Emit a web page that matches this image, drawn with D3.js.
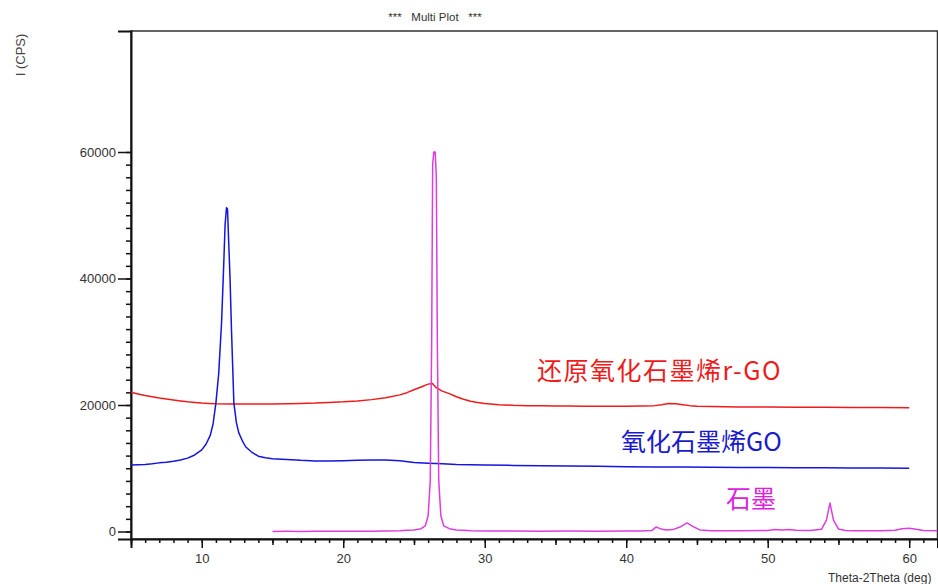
<!DOCTYPE html>
<html>
<head>
<meta charset="utf-8">
<script src="https://cdn.jsdelivr.net/npm/d3@7"></script>
<style>
  body { margin: 0; background: #fff; }
  svg { display: block; }
  .tick text { font-family: "Liberation Sans", Arial, sans-serif; font-size: 13px; fill: #333; }
</style>
</head>
<body>
<div id="chart"></div>
<script>
// XRD patterns (2theta in deg, intensity in CPS)
var rgoTheta = [5, 5.5, 6, 6.5, 7, 7.5, 8, 8.5, 9, 9.5, 10, 10.5, 11, 12, 13, 14, 15, 16, 17, 18, 19, 20, 21, 22, 23, 24, 24.5, 25, 25.5, 26, 26.3, 26.6, 27, 27.5, 28, 28.5, 29, 29.5, 30, 31, 32, 33, 34, 35, 36, 37, 38, 39, 40, 41, 42, 42.5, 43, 43.5, 44, 44.5, 45, 46, 48, 50, 52, 54, 56, 58, 60];
var rgoCounts = [22000, 21750, 21500, 21300, 21100, 20950, 20800, 20650, 20500, 20400, 20300, 20250, 20200, 20150, 20150, 20150, 20150, 20200, 20250, 20300, 20400, 20500, 20650, 20850, 21150, 21600, 21950, 22400, 22850, 23300, 23400, 22700, 22200, 21800, 21300, 20900, 20600, 20400, 20250, 20050, 19950, 19900, 19900, 19850, 19850, 19800, 19800, 19800, 19800, 19850, 19900, 20050, 20250, 20200, 20050, 19900, 19800, 19750, 19700, 19700, 19650, 19650, 19600, 19600, 19550];

var goTheta = [5, 5.5, 6, 6.5, 7, 7.5, 8, 8.5, 9, 9.5, 10, 10.3, 10.6, 10.8, 11.0, 11.2, 11.4, 11.55, 11.65, 11.75, 11.82, 11.9, 12.0, 12.1, 12.27, 12.45, 12.62, 12.9, 13.1, 13.5, 14, 14.5, 15, 16, 17, 18, 19, 20, 21, 22, 23, 24, 25, 26, 27, 28, 29, 30, 32, 34, 36, 38, 40, 42, 44, 46, 48, 50, 52, 54, 56, 58, 60];
var goCounts = [10500, 10550, 10600, 10700, 10850, 10950, 11100, 11300, 11600, 12100, 12900, 13800, 15200, 17000, 20300, 25000, 33000, 42000, 48500, 51200, 51000, 46000, 40000, 32000, 20300, 17200, 15600, 14200, 13400, 12600, 11900, 11650, 11500, 11400, 11250, 11150, 11150, 11200, 11250, 11300, 11300, 11200, 10900, 10800, 10700, 10600, 10550, 10500, 10450, 10400, 10350, 10300, 10250, 10200, 10180, 10150, 10120, 10100, 10080, 10060, 10050, 10030, 10000];

var graphiteTheta = [15, 16, 17, 18, 19, 20, 21, 22, 23, 24, 24.5, 25, 25.5, 25.8, 26.0, 26.15, 26.25, 26.32, 26.4, 26.5, 26.58, 26.65, 26.75, 26.9, 27.1, 27.5, 28, 28.5, 29, 30, 32, 34, 36, 38, 40, 41, 41.8, 42.1, 42.4, 42.8, 43.3, 43.8, 44.3, 44.7, 45.2, 46, 48, 50, 50.5, 51, 51.5, 52, 53, 53.8, 54.15, 54.4, 54.65, 55.0, 55.5, 56, 58, 59, 59.5, 60, 60.5, 61, 62];
var graphiteCounts = [0, 20, 10, 30, 20, 40, 30, 50, 60, 100, 200, 250, 450, 900, 2500, 8000, 30000, 58000, 60000, 60000, 56000, 30000, 8000, 2500, 900, 450, 250, 180, 120, 80, 60, 50, 60, 50, 60, 80, 150, 700, 450, 250, 300, 700, 1350, 800, 250, 120, 100, 150, 300, 250, 300, 200, 150, 350, 1800, 4500, 1800, 400, 150, 100, 120, 200, 450, 500, 350, 150, 100];

var xMajorTicks = [10, 20, 30, 40, 50, 60];
var yMajorTicks = [0, 20000, 40000, 60000];

var svgWidth = 938;
var svgHeight = 584;

// plot box edges, in pixels
var box = { left: 131, right: 937.5, top: 31, bottom: 539 };

var svg = d3.select("#chart")
  .append("svg")
  .attr("width", svgWidth)
  .attr("height", svgHeight);

var xScale = d3.scaleLinear()
  .domain([5, 62])
  .range([box.left, box.right]);

var yScale = d3.scaleLinear()
  .domain([-1186, 79130])
  .range([box.bottom, box.top]);

svg.append("clipPath")
  .attr("id", "plotClip")
  .append("rect")
  .attr("x", box.left)
  .attr("y", box.top)
  .attr("width", box.right - box.left)
  .attr("height", box.bottom - box.top);

// frame
svg.append("rect")
  .attr("x", box.left)
  .attr("y", box.top)
  .attr("width", box.right - box.left)
  .attr("height", box.bottom - box.top)
  .attr("fill", "none")
  .attr("stroke", "#333")
  .attr("stroke-width", 1.5);

// title and axis labels
svg.append("text")
  .attr("x", 435)
  .attr("y", 21)
  .attr("text-anchor", "middle")
  .attr("xml:space", "preserve")
  .style("font-family", "Liberation Sans, Arial, sans-serif")
  .style("font-size", "11.5px")
  .style("white-space", "pre")
  .attr("fill", "#333")
  .text("***   Multi Plot   ***");

svg.append("text")
  .attr("transform", "translate(25, 55) rotate(-90)")
  .attr("text-anchor", "middle")
  .style("font-family", "Liberation Sans, Arial, sans-serif")
  .style("font-size", "13px")
  .attr("fill", "#444")
  .text("I (CPS)");

svg.append("text")
  .attr("x", 828)
  .attr("y", 582)
  .style("font-family", "Liberation Sans, Arial, sans-serif")
  .style("font-size", "12px")
  .attr("fill", "#333")
  .text("Theta-2Theta (deg)");

// y axis: minor ticks every 2000, labelled majors every 20000
svg.append("g")
  .attr("transform", `translate(${box.left}, 0)`)
  .call(d3.axisLeft(yScale)
    .tickValues(d3.range(0, 60001, 2000))
    .tickSize(5)
    .tickFormat(""))
  .call(g => g.select(".domain").remove())
  .selectAll("line").attr("stroke", "#111").attr("stroke-width", 1.5);

svg.append("g")
  .attr("transform", `translate(${box.left}, 0)`)
  .call(d3.axisLeft(yScale)
    .tickValues(yMajorTicks)
    .tickSize(13)
    .tickPadding(2)
    .tickFormat(d3.format("d")))
  .call(g => g.select(".domain").attr("stroke", "#111").attr("stroke-width", 2))
  .selectAll("line").attr("stroke", "#111").attr("stroke-width", 1.5);

// x axis: minor every 1 deg, medium at the fives, labelled majors at the tens
svg.append("g")
  .attr("transform", `translate(0, ${box.bottom})`)
  .call(d3.axisBottom(xScale)
    .tickValues(d3.range(5, 63, 1))
    .tickSize(4)
    .tickFormat(""))
  .call(g => g.select(".domain").remove())
  .selectAll("line").attr("stroke", "#111").attr("stroke-width", 1.5);

svg.append("g")
  .attr("transform", `translate(0, ${box.bottom})`)
  .call(d3.axisBottom(xScale)
    .tickValues(d3.range(5, 63, 10))
    .tickSize(6)
    .tickFormat(""))
  .call(g => g.select(".domain").remove())
  .selectAll("line").attr("stroke", "#111").attr("stroke-width", 1.5);

svg.append("g")
  .attr("transform", `translate(0, ${box.bottom})`)
  .call(d3.axisBottom(xScale)
    .tickValues(xMajorTicks)
    .tickSize(9)
    .tickPadding(6)
    .tickFormat(d3.format("d")))
  .call(g => g.select(".domain").attr("stroke", "#111").attr("stroke-width", 2))
  .selectAll("line").attr("stroke", "#111").attr("stroke-width", 1.5);

// patterns: r-GO first, then GO, graphite on top
var series = [
  { theta: rgoTheta, counts: rgoCounts, color: "#ee1b1b" },
  { theta: goTheta, counts: goCounts, color: "#1515dd" },
  { theta: graphiteTheta, counts: graphiteCounts, color: "#dd3ddd" }
];

var line = d3.line()
  .x(d => xScale(d[0]))
  .y(d => yScale(d[1]));

var linesGroup = svg.append("g").attr("clip-path", "url(#plotClip)");

series.forEach(function(s) {
  linesGroup.append("path")
    .datum(d3.zip(s.theta, s.counts))
    .attr("d", line)
    .attr("fill", "none")
    .attr("stroke", s.color)
    .attr("stroke-width", 1.5)
    .attr("stroke-linejoin", "round");
});

// curve names
var labels = [
  { text: "还原氧化石墨烯r-GO", x: 537, y: 369, spacing: 1.5, color: "#ee1b1b" },
  { text: "氧化石墨烯GO", x: 621, y: 440, spacing: 0, color: "#1a1acc" },
  { text: "石墨", x: 726, y: 497, spacing: 0, color: "#dd22dd" }
];

svg.selectAll(".curveLabel")
  .data(labels)
  .enter()
  .append("text")
  .attr("class", "curveLabel")
  .attr("x", d => d.x)
  .attr("y", d => d.y)
  .attr("dominant-baseline", "central")
  .style("letter-spacing", d => d.spacing + "px")
  .style("font-family", "'Noto Sans CJK SC', sans-serif")
  .style("font-size", "25px")
  .attr("fill", d => d.color)
  .text(d => d.text);
</script>
</body>
</html>
